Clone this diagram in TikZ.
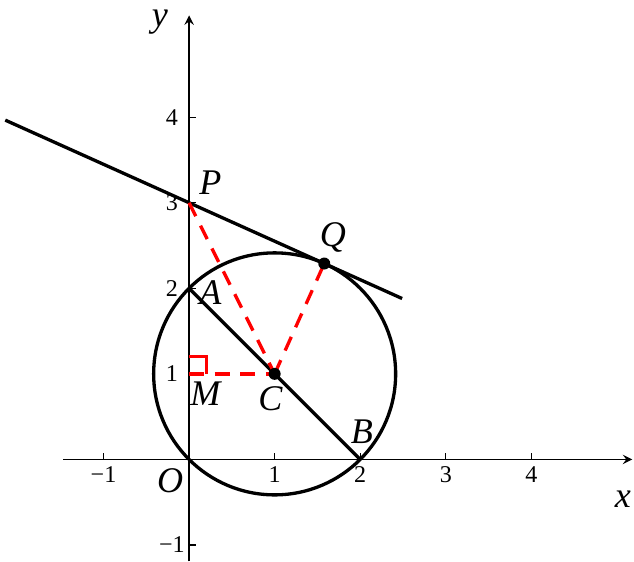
\documentclass[tikz,border=0pt]{standalone}
\usepackage{fontspec}
\setmainfont{Liberation Serif}
\usetikzlibrary{calc}
\begin{document}
\begin{tikzpicture}[
    axis/.style={->, >=stealth, line width=0.4pt},
    curve/.style={line width=1.1pt},
    aux/.style={red, line width=1.1pt, dash pattern=on 5pt off 3.5pt},
    tick/.style={font=\fontsize{8}{9}\selectfont},
    pt/.style={font=\fontsize{12}{14}\selectfont\itshape},
    dot/.style={circle, fill=black, minimum size=0.14cm, inner sep=0pt},
]
\useasboundingbox (-2.21,-1.19) rectangle (5.20,5.37);

% Axes
\draw[axis] (-1.47,0) -- (5.18,0);
\draw[axis] (0,-1.19) -- (0,5.19);
\node[pt] (xlab) at (5.07,-0.46) {x};
\node[pt] (ylab) at (-0.34,5.11) {y};
\node[pt] (olab) at (-0.22,-0.25) {O};

% Ticks
\foreach \x/\t in {-1/−1,1/1,2/2,3/3,4/4} {
    \draw[line width=0.4pt] (\x,0) -- (\x,0.08);
    \node[tick] at (\x,-0.18) {\t};
}
\foreach \y/\t in {-1/−1,1/1,2/2,3/3,4/4} {
    \draw[line width=0.4pt] (0,\y) -- (0.08,\y);
    \node[tick] at (-0.2,\y) {\t};
}

% Points
\coordinate (O) at (0,0);
\coordinate (A) at (0,2);
\coordinate (B) at (2,0);
\coordinate (C) at (1,1);
\coordinate (P) at (0,3);
\coordinate (M) at (0,1);
\coordinate (Q) at (1.5798,2.2899);
\coordinate (L1) at ($(P)!-1.36!(Q)$);
\coordinate (L2) at ($(P)!1.576!(Q)$);

% Circle, chord and tangent
\draw[curve] (C) circle ({sqrt(2)});
\draw[curve] (A) -- (B);
\draw[curve] (L1) -- (L2);

% Dashed helpers
\draw[aux] (P) -- (C);
\draw[aux] (C) -- (Q);
\draw[aux] (M) -- (C);
\draw[red, line width=1.1pt] (0,1.2) -- (0.2,1.2) -- (0.2,1.0);

\node[dot] (Cdot) at (C) {};
\node[dot] (Qdot) at (Q) {};

% Labels
\node[pt] (plab) at (0.25,3.23) {P};
\node[pt] (qlab) at (1.68,2.60) {Q};
\node[pt] (alab) at (0.25,1.95) {A};
\node[pt] (mlab) at (0.19,0.77) {M};
\node[pt] (clab) at (0.95,0.71) {C};
\node[pt] (blab) at (2.02,0.32) {B};
\end{tikzpicture}
\end{document}
